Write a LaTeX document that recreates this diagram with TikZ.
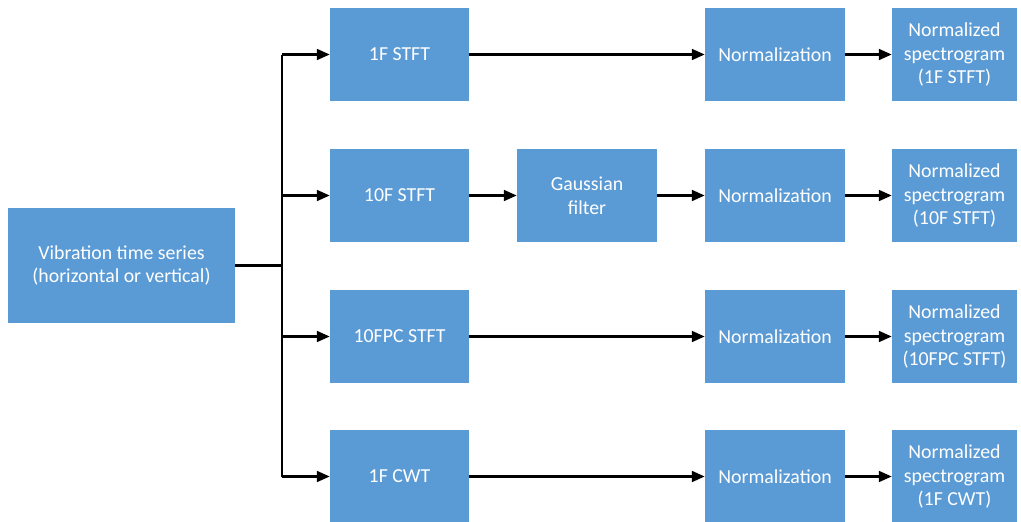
\documentclass[tikz,border=0pt]{standalone}
\usepackage{fontspec}
\setmainfont{Carlito}
\usetikzlibrary{arrows.meta, positioning}
\definecolor{boxblue}{RGB}{91, 155, 213}
\definecolor{linkblack}{RGB}{0, 0, 0}

\tikzset{
    blk/.style={fill=boxblue, text=white, inner sep=0pt, align=center,
        font=\fontsize{14.1}{17}\selectfont},
    srcbox/.style={blk, minimum width=5.675cm, minimum height=2.875cm},
    stagebox/.style={blk, minimum width=3.475cm, minimum height=2.325cm},
    outbox/.style={blk, minimum width=3.125cm, minimum height=2.325cm},
    link/.style={draw=linkblack, line width=1.6pt},
    linkarrow/.style={link, -{Triangle[length=0.32cm, width=0.27cm]}}
}

\begin{document}
\begin{tikzpicture}[x=0.025cm, y=-0.025cm]
    \useasboundingbox (0,0) rectangle (1021,521);
    \clip (0,0) rectangle (1021,521);

    % Entrada
    \node[srcbox] (src) at (121.5,265.5) {Vibration time series\\(horizontal or vertical)};

    % Transformadas
    \node[stagebox] (stftA) at (399.5,54.5) {1F STFT};
    \node[stagebox] (stftB) at (399.5,195.5) {10F STFT};
    \node[stagebox] (stftC) at (399.5,336.5) {10FPC STFT};
    \node[stagebox] (cwtA) at (399.5,476.5) {1F CWT};
    \node[stagebox, minimum width=3.5cm] (gauss) at (587,195.5) {Gaussian\\filter};

    % Normalizacion y salida
    \foreach \r/\y/\lbl in {A/54.5/1F STFT, B/195.5/10F STFT, C/336.5/10FPC STFT, D/476.5/1F CWT} {
        \node[stagebox, minimum width=3.5cm] (norm\r) at (775,\y) {Normalization};
        \node[outbox] (spec\r) at (954.5,\y) {Normalized\\spectrogram\\(\lbl)};
        \draw[linkarrow] (norm\r.east) -- (spec\r.west);
    }

    % Bus
    \coordinate (busT) at (282,54.5);
    \coordinate (busB) at (282,476.5);
    \draw[link] (src.east) -- (busT |- src.east);
    \draw[link] (busT) -- (busB);
    \foreach \n in {stftA, stftB, stftC, cwtA}
        \draw[linkarrow] (busT |- \n.west) -- (\n.west);

    % Conexiones
    \draw[linkarrow] (stftA.east) -- (normA.west);
    \draw[linkarrow] (stftB.east) -- (gauss.west);
    \draw[linkarrow] (gauss.east) -- (normB.west);
    \draw[linkarrow] (stftC.east) -- (normC.west);
    \draw[linkarrow] (cwtA.east) -- (normD.west);
\end{tikzpicture}
\end{document}
